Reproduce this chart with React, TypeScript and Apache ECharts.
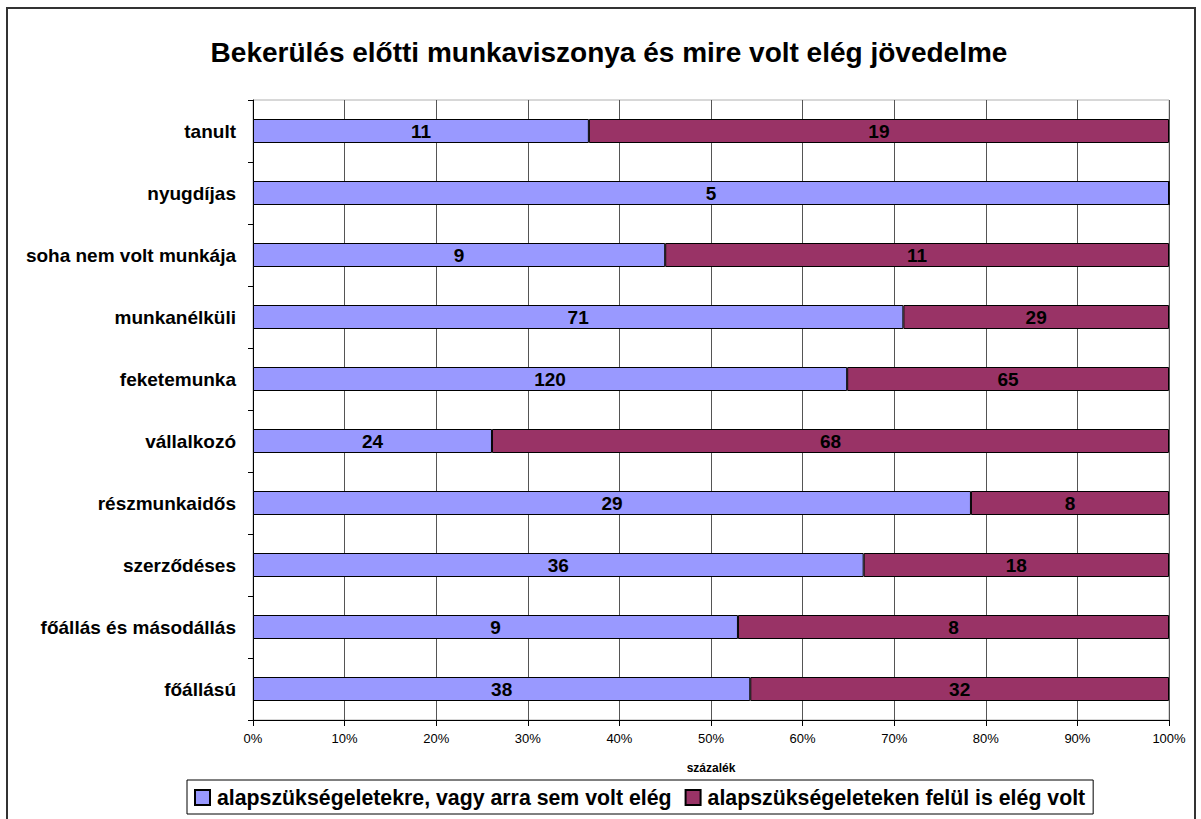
import React, { useEffect, useRef } from "react";
import * as echarts from "echarts";

const categories = [
  "főállású",
  "főállás és másodállás",
  "szerződéses",
  "részmunkaidős",
  "vállalkozó",
  "feketemunka",
  "munkanélküli",
  "soha nem volt munkája",
  "nyugdíjas",
  "tanult",
];
const basicValues = [38, 9, 36, 29, 24, 120, 71, 9, 5, 11];
const aboveValues = [32, 8, 18, 8, 68, 65, 29, 11, 0, 19];
const seriesNames = [
  "alapszükségeletekre, vagy arra sem volt elég",
  "alapszükségeleteken felül is elég volt",
];
const title = "Bekerülés előtti munkaviszonya és mire volt elég jövedelme";
const xAxisName = "százalék";

export default function App() {
  const ref = useRef<HTMLDivElement>(null);
  useEffect(() => {
    if (!ref.current) return;
    const chart = echarts.init(ref.current, null, { renderer: "svg" });
    const totals = basicValues.map((v, i) => v + aboveValues[i]);
    const pct = (arr: number[]) =>
      arr.map((v, i) => ({ value: (v / totals[i]) * 100, raw: v }));
    const font = "Liberation Sans, Arial, sans-serif";
    const labelCfg = {
      show: true,
      position: "inside",
      color: "#000",
      fontWeight: "bold",
      fontSize: 19,
      fontFamily: font,
      formatter: (p: any) => (p.data.raw ? String(p.data.raw) : ""),
    };
    chart.setOption({
      animation: false,
      backgroundColor: "#fff",
      textStyle: { fontFamily: font },
      title: {
        text: title,
        left: 604,
        textAlign: "center",
        top: 33,
        textStyle: { fontSize: 28, fontWeight: "bold", color: "#000", fontFamily: font },
      },
      graphic: [
        {
          type: "polyline",
          shape: { points: [[7, 830], [7, 8], [1195, 8], [1195, 830]] },
          style: { stroke: "#333", lineWidth: 2, fill: "none" },
          z: 0,
        },
      ],
      grid: {
        left: 253,
        right: 32,
        top: 100,
        bottom: 99,
        show: true,
        borderColor: "#b0b0b0",
        borderWidth: 1,
      },
      legend: {
        left: 187,
        top: 780,
        orient: "horizontal",
        itemWidth: 15,
        itemHeight: 15,
        itemGap: 13,
        padding: [7, 8, 6, 7],
        borderColor: "#000",
        borderWidth: 1,
        icon: "rect",
        textStyle: { fontSize: 21.3, fontWeight: "bold", color: "#000", fontFamily: font, padding: [0, 0, 0, 2] },
        data: seriesNames,
      },
      xAxis: {
        type: "value",
        min: 0,
        max: 100,
        interval: 10,
        name: xAxisName,
        nameLocation: "middle",
        nameGap: 42,
        nameTextStyle: { fontSize: 12, fontWeight: "bold", color: "#000", fontFamily: font },
        axisLine: { show: true, lineStyle: { color: "#000" } },
        axisTick: { show: true, length: 6, lineStyle: { color: "#000" } },
        axisLabel: { formatter: "{value}%", fontSize: 13, color: "#000", margin: 12, fontFamily: font },
        splitLine: { show: true, lineStyle: { color: "#555", width: 1 } },
      },
      yAxis: {
        type: "category",
        data: categories,
        axisLine: { show: true, lineStyle: { color: "#000" } },
        axisTick: { show: true, length: 5, lineStyle: { color: "#000" } },
        axisLabel: { fontSize: 19, fontWeight: "bold", color: "#000", margin: 17, fontFamily: font },
        splitLine: { show: false },
      },
      series: [
        {
          name: seriesNames[0],
          type: "bar",
          stack: "total",
          barWidth: 24,
          data: pct(basicValues),
          itemStyle: { color: "#9999FF", borderColor: "#000", borderWidth: 1 },
          label: labelCfg,
        },
        {
          name: seriesNames[1],
          type: "bar",
          stack: "total",
          barWidth: 24,
          data: pct(aboveValues),
          itemStyle: { color: "#993366", borderColor: "#000", borderWidth: 1 },
          label: labelCfg,
        },
      ],
    });
    return () => chart.dispose();
  }, []);
  return (
    <div
      ref={ref}
      style={{ position: "fixed", left: 0, top: 0, width: 1201, height: 819 }}
    />
  );
}
